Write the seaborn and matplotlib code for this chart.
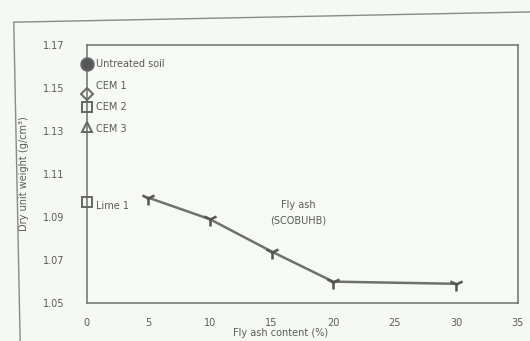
import pandas as pd
import matplotlib.pyplot as plt
import seaborn as sns
from matplotlib.lines import Line2D

# single treatments at 0 % fly ash
trat_nombres = ["Untreated soil", "CEM 1", "CEM 2", "CEM 3", "Lime 1"]
trat_valores = [1.161, 1.147, 1.141, 1.132, 1.097]
trat_marcadores = ["o", "D", "s", "^", "s"]
trat_relleno = ["#555555", "none", "none", "none", "none"]

# fly ash series
ceniza_pct = [5, 10, 15, 20, 30]
ceniza_valores = [1.099, 1.089, 1.074, 1.060, 1.059]

x_ticks = [0, 5, 10, 15, 20, 25, 30, 35]
y_ticks = [1.05, 1.07, 1.09, 1.11, 1.13, 1.15, 1.17]

sns.set_style("white")
plt.rcParams["font.family"] = ["DejaVu Sans"]
gris = "#5a5a5a"

fig = plt.figure(figsize=(5.3, 3.41), dpi=100)
fig.patch.set_facecolor("#f5f8f3")
ax = fig.add_axes([0.164, 0.111, 0.813, 0.757])
ax.set_facecolor("#f7f9f5")

df_ceniza = pd.DataFrame({"pct": ceniza_pct, "peso": ceniza_valores})
sns.lineplot(data=df_ceniza, x="pct", y="peso", ax=ax, color="#707070",
             linewidth=1.8, marker="1", markersize=10, markeredgewidth=1.8,
             markeredgecolor="#555555")

for nombre, valor, mk, fc in zip(trat_nombres, trat_valores, trat_marcadores, trat_relleno):
    ax.plot([0], [valor], marker=mk, markersize=6.5 if mk != "o" else 9,
            markerfacecolor=fc, markeredgecolor="#666666", markeredgewidth=1.4,
            linestyle="none", clip_on=False, zorder=5)

etiquetas_pos = {"Untreated soil": 1.161, "CEM 1": 1.151, "CEM 2": 1.141,
                 "CEM 3": 1.131, "Lime 1": 1.095}
for nombre in trat_nombres:
    ax.text(0.75, etiquetas_pos[nombre], nombre, fontsize=7, color=gris,
            va="center", ha="left")

ax.text(17.2, 1.092, "Fly ash\n(SCOBUHB)", fontsize=7, color=gris,
        ha="center", va="center", linespacing=1.6)

ax.set_xlim(0, 35)
ax.set_ylim(1.05, 1.17)
ax.set_xticks(x_ticks)
ax.set_yticks(y_ticks)
ax.set_xticklabels([str(v) for v in x_ticks], fontsize=7, color=gris)
ax.set_yticklabels([f"{v:.2f}" for v in y_ticks], fontsize=7, color=gris)
ax.tick_params(axis="y", direction="inout", length=4, width=0.8, color="#777777", pad=14)
ax.tick_params(axis="x", length=0, pad=11)
for sp in ax.spines.values():
    sp.set_color("#6f6f6f")
    sp.set_linewidth(1.1)

ax.set_xlabel("Fly ash content (%)", fontsize=7, color=gris, labelpad=0)
ax.xaxis.set_label_coords(0.45, -0.098)
ax.set_ylabel("Dry unit weight (g/cm³)", fontsize=7, color=gris, labelpad=10)

# outer frame of the scanned figure
fig.add_artist(Line2D([0.026, 1.0], [0.935, 0.965], transform=fig.transFigure,
                      color="#8a8a8a", linewidth=1.0))
fig.add_artist(Line2D([0.026, 0.038], [0.935, 0.0], transform=fig.transFigure,
                      color="#8a8a8a", linewidth=1.0))

fig.savefig("out.png", dpi=100, facecolor=fig.get_facecolor())
